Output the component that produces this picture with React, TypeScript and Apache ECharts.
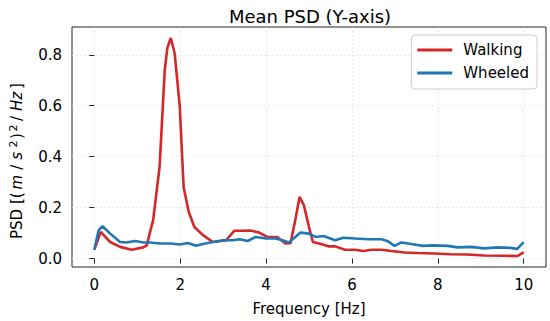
import React, { useEffect, useRef } from "react";
import * as echarts from "echarts";

const walkFreq = [0, 0.15, 0.37, 0.6, 0.87, 1.14, 1.22, 1.37, 1.52, 1.64, 1.7, 1.78, 1.87, 1.99, 2.08, 2.2, 2.33, 2.53, 2.76, 3.07, 3.26, 3.45, 3.64, 3.84, 4.03, 4.26, 4.45, 4.57, 4.68, 4.78, 4.88, 5.0, 5.09, 5.3, 5.45, 5.61, 5.84, 6.07, 6.26, 6.46, 6.69, 6.92, 7.22, 7.53, 7.92, 8.3, 8.69, 9.08, 9.54, 9.85, 10.0];
const walkPsd = [0.035, 0.105, 0.065, 0.046, 0.035, 0.044, 0.052, 0.151, 0.36, 0.74, 0.826, 0.866, 0.807, 0.597, 0.28, 0.183, 0.124, 0.092, 0.065, 0.072, 0.109, 0.109, 0.11, 0.102, 0.085, 0.085, 0.059, 0.06, 0.151, 0.242, 0.21, 0.124, 0.065, 0.056, 0.048, 0.048, 0.035, 0.035, 0.03, 0.035, 0.035, 0.03, 0.024, 0.022, 0.02, 0.017, 0.016, 0.012, 0.011, 0.01, 0.024];

const wheelFreq = [0, 0.1, 0.19, 0.37, 0.6, 0.75, 0.95, 1.14, 1.3, 1.52, 1.76, 1.99, 2.18, 2.37, 2.53, 2.76, 3.0, 3.22, 3.38, 3.57, 3.76, 4.0, 4.22, 4.38, 4.53, 4.68, 4.8, 5.0, 5.15, 5.34, 5.61, 5.8, 6.07, 6.38, 6.69, 6.84, 6.99, 7.15, 7.38, 7.65, 7.92, 8.23, 8.46, 8.77, 9.08, 9.39, 9.69, 9.85, 10.0];
const wheelPsd = [0.035, 0.111, 0.127, 0.098, 0.065, 0.063, 0.069, 0.063, 0.063, 0.059, 0.059, 0.055, 0.061, 0.05, 0.057, 0.065, 0.072, 0.072, 0.076, 0.069, 0.085, 0.079, 0.079, 0.072, 0.063, 0.085, 0.102, 0.098, 0.085, 0.089, 0.072, 0.082, 0.079, 0.076, 0.076, 0.068, 0.05, 0.063, 0.057, 0.05, 0.052, 0.05, 0.044, 0.046, 0.04, 0.044, 0.042, 0.038, 0.065];

const xTicks = [0, 2, 4, 6, 8, 10];
const yTicks = [0, 0.2, 0.4, 0.6, 0.8];
const seriesNames = ["Walking", "Wheeled"];

const FONT = "DejaVu Sans";

export default function App() {
  const ref = useRef<HTMLDivElement>(null);
  useEffect(() => {
    const chart = echarts.init(ref.current!, null, { renderer: "svg" });
    const gridLine = { show: true, lineStyle: { color: "#d9d9d9", width: 0.8, type: [1.5, 2.5] } };
    chart.setOption({
      animation: false,
      title: {
        text: "Mean PSD (Y-axis)",
        left: 305,
        top: 2,
        textAlign: "center",
        textStyle: { fontFamily: FONT, fontSize: 18, fontWeight: "normal", color: "#000" },
      },
      grid: {
        left: 68,
        right: 4,
        top: 27,
        bottom: 54,
        show: true,
        borderColor: "#222",
        borderWidth: 1,
        backgroundColor: "transparent",
      },
      legend: {
        orient: "vertical",
        right: 13,
        top: 35,
        icon: "rect",
        itemWidth: 35,
        itemHeight: 3,
        itemGap: 7,
        padding: [7, 8, 8, 6],
        backgroundColor: "rgba(255,255,255,0.85)",
        borderColor: "#cccccc",
        borderWidth: 1,
        borderRadius: 4,
        data: seriesNames,
        textStyle: { fontFamily: FONT, fontSize: 15, color: "#000", lineHeight: 16, padding: [0, 0, 0, 6] },
      },
      xAxis: {
        type: "value",
        min: -0.52,
        max: 10.52,
        name: "Frequency [Hz]",
        nameLocation: "middle",
        nameGap: 34,
        nameTextStyle: { fontFamily: FONT, fontSize: 15, color: "#000" },
        axisLine: { show: false },
        axisTick: { show: true, length: 5, customValues: xTicks, lineStyle: { color: "#222" } },
        axisLabel: { customValues: xTicks, margin: 10, fontFamily: FONT, fontSize: 15, color: "#000" },
        splitLine: gridLine,
      },
      yAxis: {
        type: "value",
        min: -0.033,
        max: 0.909,
        name: "PSD [({i|m}{sl|/}{i|s}{sup|2}){sup|2}{sl|/}{i|Hz}]",
        nameLocation: "middle",
        nameRotate: 90,
        nameGap: 46,
        nameTextStyle: {
          fontFamily: FONT,
          fontSize: 15,
          color: "#000",
          padding: [0, 28, 0, 0],
          rich: {
            i: { fontFamily: FONT, fontSize: 15, fontStyle: "italic", color: "#000", padding: [0, 3] },
            sl: { fontFamily: FONT, fontSize: 15, color: "#000", padding: [0, 2] },
            sup: { fontFamily: FONT, fontSize: 11, color: "#000", padding: [0, 1.5, 7, 1.5] },
          },
        },
        axisLine: { show: false },
        axisTick: { show: true, length: 5, customValues: yTicks, lineStyle: { color: "#222" } },
        axisLabel: {
          customValues: yTicks,
          margin: 10,
          fontFamily: FONT,
          fontSize: 15,
          color: "#000",
          formatter: (v: number) => v.toFixed(1),
        },
        splitLine: gridLine,
      },
      series: [
        {
          name: seriesNames[0],
          type: "line",
          data: walkFreq.map((f, i) => [f, walkPsd[i]]),
          showSymbol: false,
          lineStyle: { color: "#d62728", width: 2.6 },
          itemStyle: { color: "#d62728" },
        },
        {
          name: seriesNames[1],
          type: "line",
          data: wheelFreq.map((f, i) => [f, wheelPsd[i]]),
          showSymbol: false,
          lineStyle: { color: "#1f77b4", width: 2.6 },
          itemStyle: { color: "#1f77b4" },
        },
      ],
    });
    return () => chart.dispose();
  }, []);
  return <div ref={ref} style={{ width: 550, height: 321, position: "absolute", left: 0, top: 0 }} />;
}
